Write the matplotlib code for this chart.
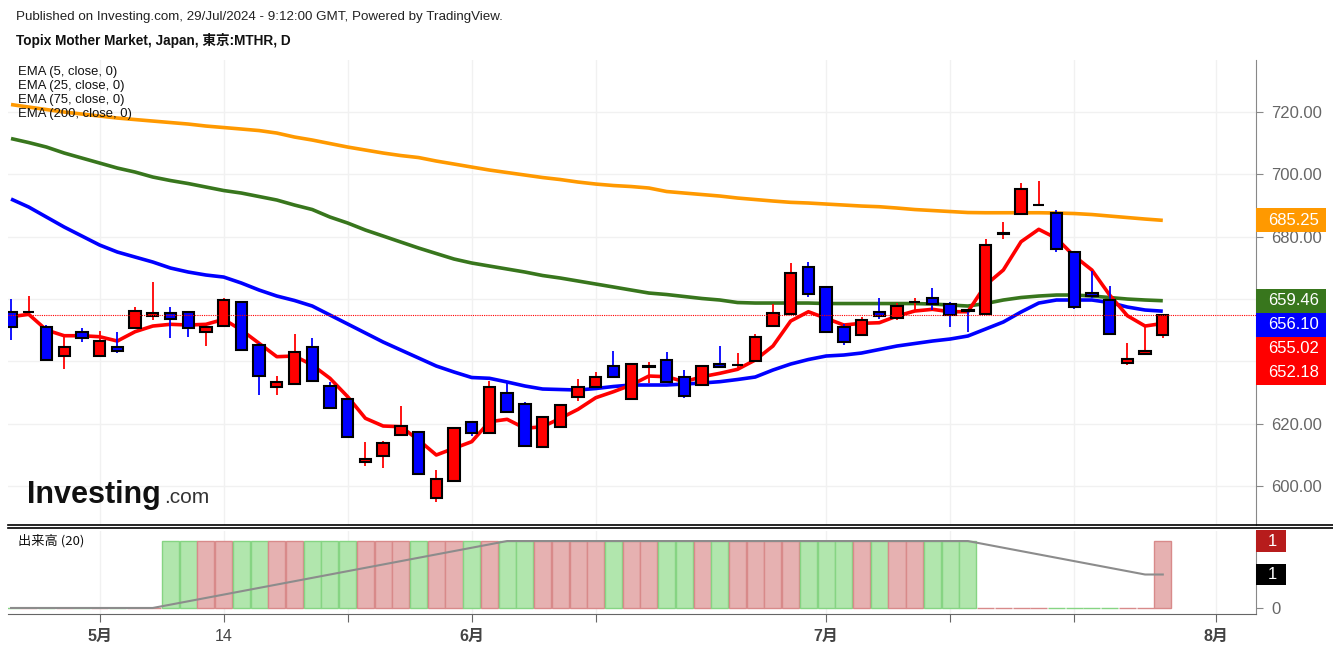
import numpy as np
import matplotlib
matplotlib.use('Agg')
import matplotlib.pyplot as plt
import matplotlib.transforms as mtransforms
from matplotlib.patches import Rectangle
from matplotlib.lines import Line2D

plt.rcParams['font.family'] = ['Liberation Sans', 'Noto Sans CJK JP']

# daily bars, 23 Apr - 29 Jul 2024 (trading days only, index = bar number)
opens = [655.74, 655.80, 650.93, 641.82, 649.52, 641.72, 644.70, 650.60, 654.55, 655.42,
         655.74, 649.52, 651.45, 659.14, 645.25, 631.68, 632.74, 644.70, 632.19, 627.92,
         607.70, 609.64, 616.28, 617.24, 596.16, 601.52, 620.64, 616.92, 629.75, 626.40,
         612.53, 618.84, 628.47, 631.87, 638.51, 627.92, 638.20, 640.44, 635.08, 632.32,
         639.06, 638.70, 640.02, 651.45, 655.20, 670.37, 663.95, 651.12, 648.55, 655.84,
         654.00, 659.10, 660.23, 658.30, 656.40, 655.20, 681.00, 687.18, 690.20, 687.50,
         674.99, 662.03, 659.69, 639.57, 642.36, 648.55]
highs = [659.91, 661.00, 651.67, 647.90, 650.60, 649.74, 649.30, 657.34, 665.56, 657.34,
         655.90, 650.93, 660.23, 659.30, 645.80, 635.30, 648.78, 647.40, 633.50, 628.10,
         614.03, 614.55, 625.68, 617.50, 605.14, 619.00, 620.80, 633.80, 632.96, 627.06,
         622.57, 626.10, 634.25, 636.68, 643.42, 639.30, 639.89, 642.90, 637.23, 638.70,
         644.93, 642.58, 648.68, 658.40, 671.46, 671.78, 664.10, 651.89, 654.13, 660.23,
         658.60, 660.40, 663.63, 659.14, 656.60, 679.16, 684.80, 697.32, 697.86, 688.56,
         675.10, 668.99, 664.18, 645.80, 651.12, 655.10]
lows = [646.85, 655.70, 640.40, 637.45, 646.10, 641.30, 642.60, 650.60, 653.27, 647.40,
        647.90, 644.93, 651.45, 643.50, 629.20, 629.20, 632.74, 633.70, 624.90, 615.60,
        606.50, 605.70, 616.00, 603.70, 594.98, 601.30, 616.15, 616.90, 623.50, 612.90,
        612.50, 618.70, 627.28, 631.80, 635.00, 627.80, 633.15, 633.20, 628.15, 632.20,
        638.10, 637.77, 639.90, 650.93, 655.00, 660.74, 649.40, 645.15, 648.50, 653.70,
        653.27, 656.50, 656.50, 650.93, 649.30, 655.10, 679.16, 687.10, 690.20, 675.18,
        656.70, 660.23, 648.60, 638.83, 642.30, 647.40]
closes = [650.93, 656.00, 640.44, 644.70, 647.59, 646.63, 643.32, 656.25, 655.42, 653.49,
          650.60, 650.93, 659.69, 643.64, 635.40, 633.28, 642.90, 633.70, 624.94, 615.83,
          608.67, 613.90, 619.26, 603.86, 602.35, 618.71, 616.92, 631.68, 623.66, 612.94,
          622.06, 625.90, 631.68, 635.08, 635.08, 639.06, 638.40, 633.28, 628.89, 638.51,
          638.19, 638.80, 647.72, 655.42, 668.44, 661.51, 649.52, 646.21, 653.27, 654.55,
          657.76, 659.20, 658.40, 654.78, 656.20, 677.33, 681.20, 695.20, 690.30, 675.95,
          657.34, 660.97, 648.68, 640.76, 643.32, 655.02]

ema5 = [654.33, 655.10, 650.06, 648.23, 648.23, 647.91, 646.53, 649.52, 651.34, 651.89,
        651.67, 651.89, 653.49, 650.06, 645.80, 641.50, 641.72, 638.83, 634.57, 628.66,
        621.73, 619.26, 619.04, 614.77, 609.96, 612.11, 614.23, 620.64, 621.41, 618.53,
        619.04, 621.73, 624.62, 628.34, 630.27, 632.42, 635.30, 635.08, 633.48, 635.08,
        636.17, 637.45, 640.44, 644.93, 652.95, 655.93, 653.81, 651.67, 652.21, 652.40,
        654.55, 656.16, 656.70, 655.93, 655.93, 664.50, 669.31, 678.39, 682.37, 679.48,
        673.80, 669.31, 661.29, 654.65, 651.34, 652.18]
ema25 = [692.09, 689.52, 686.31, 683.11, 680.22, 677.33, 675.09, 673.48, 671.88, 669.95,
         668.67, 667.71, 667.06, 665.14, 662.89, 660.97, 659.53, 657.76, 654.87, 651.99,
         649.10, 646.21, 643.64, 641.08, 638.51, 636.59, 634.82, 634.57, 633.38, 632.10,
         631.13, 630.97, 630.81, 631.29, 631.94, 632.42, 632.42, 632.42, 632.74, 633.06,
         633.48, 634.18, 634.98, 637.23, 639.15, 640.60, 641.72, 642.04, 642.68, 643.81,
         644.93, 645.73, 646.53, 647.17, 648.14, 650.38, 652.63, 655.84, 658.72, 659.69,
         659.69, 659.69, 658.88, 657.44, 656.48, 656.10]
ema75 = [711.50, 710.21, 708.77, 706.85, 705.24, 703.64, 702.03, 700.75, 699.15, 698.02,
         697.06, 695.94, 694.82, 694.01, 692.89, 691.77, 690.16, 688.72, 686.31, 684.39,
         682.14, 680.22, 678.29, 676.37, 674.60, 672.84, 671.56, 670.59, 669.63, 668.67,
         667.55, 666.74, 665.78, 664.82, 663.86, 662.89, 661.93, 661.45, 660.81, 660.17,
         659.69, 658.88, 658.72, 658.72, 658.72, 658.72, 658.56, 658.56, 658.56, 658.56,
         658.56, 658.56, 658.40, 658.08, 657.76, 658.56, 659.69, 660.49, 660.97, 661.29,
         661.29, 660.97, 660.49, 660.00, 659.69, 659.46]
ema200 = [722.41, 721.60, 720.80, 720.00, 719.36, 718.72, 718.08, 717.59, 717.11, 716.63,
          716.15, 715.51, 715.03, 714.55, 714.06, 713.26, 711.98, 711.02, 709.89, 708.77,
          707.81, 706.85, 706.04, 705.40, 704.28, 703.32, 702.35, 701.39, 700.59, 699.79,
          698.99, 698.34, 697.54, 696.90, 696.42, 696.10, 695.62, 694.50, 694.01, 693.53,
          693.05, 692.41, 691.93, 691.45, 691.03, 690.81, 690.48, 690.16, 689.84, 689.62,
          689.20, 688.72, 688.40, 688.08, 687.76, 687.69, 687.69, 687.69, 687.69, 687.60,
          687.44, 687.12, 686.63, 686.15, 685.67, 685.25]

volume = [0, 0, 0, 0, 0, 0, 0, 0, 0, 1,
          1, 1, 1, 1, 1, 1, 1, 1, 1, 1,
          1, 1, 1, 1, 1, 1, 1, 1, 1, 1,
          1, 1, 1, 1, 1, 1, 1, 1, 1, 1,
          1, 1, 1, 1, 1, 1, 1, 1, 1, 1,
          1, 1, 1, 1, 1, 0, 0, 0, 0, 0,
          0, 0, 0, 0, 0, 1]
volume_ma = [0, 0, 0, 0, 0, 0, 0, 0, 0, 0.05,
             0.10, 0.15, 0.20, 0.25, 0.30, 0.35, 0.40, 0.45, 0.50, 0.55,
             0.60, 0.65, 0.70, 0.75, 0.80, 0.85, 0.90, 0.95, 1.0, 1.0,
             1.0, 1.0, 1.0, 1.0, 1.0, 1.0, 1.0, 1.0, 1.0, 1.0,
             1.0, 1.0, 1.0, 1.0, 1.0, 1.0, 1.0, 1.0, 1.0, 1.0,
             1.0, 1.0, 1.0, 1.0, 1.0, 0.95, 0.90, 0.85, 0.80, 0.75,
             0.70, 0.65, 0.60, 0.55, 0.50, 0.50]

tick_pos = [5, 12, 19, 26, 33, 46, 53, 60, 68]
tick_labels = ['5月', '14', '', '6月', '', '7月', '', '', '8月']
price_ticks = [600, 620, 640, 660, 680, 700, 720]
price_labels = ['600.00', '620.00', '', '', '680.00', '700.00', '720.00']  # 640/660 sit under the tags
ema_names = ['EMA (5, close, 0)', 'EMA (25, close, 0)', 'EMA (75, close, 0)', 'EMA (200, close, 0)']

W, H = 1333, 648


def px_rect(l, t, r, b):
    return [l / W, 1 - b / H, (r - l) / W, (b - t) / H]


fig = plt.figure(figsize=(W / 100, H / 100), dpi=100)
ax = fig.add_axes(px_rect(8, 60, 1256, 525))
axv = fig.add_axes(px_rect(8, 531, 1256, 614), sharex=ax)

x = np.arange(len(closes))
o = np.array(opens)
c = np.array(closes)
up = c >= o
candle_cols = np.where(up, '#ff0000', '#0000ff')

# grid
for t in tick_pos:
    ax.axvline(t, color='#f1f1f1', lw=1, zorder=0)
    axv.axvline(t, color='#f1f1f1', lw=1, zorder=0)
for p in price_ticks:
    ax.axhline(p, color='#f1f1f1', lw=1, zorder=0)

# moving averages
ema_cols = ['#ff0000', '#0000ff', '#38761d', '#ff9900']
for series, col in zip([ema200, ema75, ema25, ema5], ema_cols[::-1]):
    ax.plot(x, series, color=col, lw=2.6, solid_capstyle='butt', zorder=2)

# candles
ax.vlines(x, lows, highs, colors=candle_cols, lw=1.3, zorder=3)
for xi, op, cl, col in zip(x, o, c, candle_cols):
    ax.add_patch(Rectangle((xi - 0.32, min(op, cl)), 0.64, abs(cl - op),
                           facecolor=col, edgecolor='black', lw=1.5, zorder=4))

ax.axhline(closes[-1], color='#ff0000', lw=0.8, ls=(0, (1, 1)), zorder=5)

ax.set_xlim(-0.17, 70.26)
ax.set_ylim(587.5, 736.7)
ax.yaxis.tick_right()
ax.set_yticks(price_ticks)
ax.set_yticklabels(price_labels)
ax.tick_params(axis='y', length=5, color='#888888', labelcolor='#666666',
               labelsize=12, pad=6)
ax.tick_params(axis='x', length=0, labelbottom=False)
for s in ['left', 'top', 'bottom']:
    ax.spines[s].set_visible(False)
ax.spines['right'].set_color('#888888')

# last-value tags on the price scale
tag_h = 7.7
tags = sorted(zip([ema200[-1], ema75[-1], ema25[-1], closes[-1], ema5[-1]],
                  ['#ff9900', '#38761d', '#0000ff', '#ff0000', '#ff0000']),
              key=lambda t: -t[0])
trans = mtransforms.blended_transform_factory(ax.transAxes, ax.transData)
prev = None
for val, col in tags:
    pos = val if prev is None else min(val, prev - tag_h)
    prev = pos
    ax.add_patch(Rectangle((1.0, pos - tag_h / 2), 70 / 1248, tag_h, transform=trans,
                           facecolor=col, edgecolor='none', clip_on=False, zorder=10))
    ax.text(1.0 + 12 / 1248, pos, '%.2f' % val, transform=trans, color='white',
            fontsize=12, va='center', ha='left', zorder=11, clip_on=False)

# legend text
for i, name in enumerate(ema_names):
    fig.text(18 / W, 1 - (72 + 14 * i) / H, name, fontsize=9.4, color='#111111',
             va='center', ha='left')

# volume pane
vol_cols = np.where(up, '#e6b1b1', '#b1e6ad')
vol_edge = np.where(up, '#d88a8a', '#86d483')
axv.bar(x, volume, width=0.96, color=vol_cols, edgecolor=vol_edge, lw=1, zorder=2)
axv.plot(x, volume_ma, color='#8c8c8c', lw=1.5, zorder=3)
axv.set_ylim(-0.09, 1.15)
axv.yaxis.tick_right()
axv.set_yticks([0])
axv.set_yticklabels(['0'])
axv.tick_params(axis='y', length=5, color='#888888', labelcolor='#666666',
                labelsize=12, pad=6)
axv.set_xticks(tick_pos)
axv.set_xticklabels(tick_labels)
axv.tick_params(axis='x', length=6, color='#666666', labelcolor='#444444',
                labelsize=11.5, pad=5)
for lab in axv.get_xticklabels():
    if lab.get_text().endswith('月'):
        lab.set_fontweight('bold')
for s in ['left', 'top']:
    axv.spines[s].set_visible(False)
axv.spines['right'].set_color('#888888')
axv.spines['bottom'].set_color('#666666')

vtrans = mtransforms.blended_transform_factory(axv.transAxes, axv.transData)
for val, lab, col in [(volume[-1], '1', '#b71c1c'), (volume_ma[-1], '1', '#000000')]:
    axv.add_patch(Rectangle((1.0, val - 0.16), 30 / 1248, 0.32, transform=vtrans,
                            facecolor=col, edgecolor='none', clip_on=False, zorder=10))
    axv.text(1.0 + 12 / 1248, val, lab, transform=vtrans, color='white', fontsize=12,
             va='center', ha='left', zorder=11, clip_on=False)
axv.text(10 / 1248, 0.88, '出来高 (20)', transform=axv.transAxes, fontsize=9.5,
         color='#111111', va='center', ha='left',
         family=['Noto Sans CJK JP', 'DejaVu Sans'])

# pane separator
for yy in (525, 528):
    fig.add_artist(Line2D([8 / W, 1.0], [1 - yy / H, 1 - yy / H], color='black', lw=1.2))

# header
fig.text(16 / W, 1 - 17 / H,
         'Published on Investing.com, 29/Jul/2024 - 9:12:00 GMT, Powered by TradingView.',
         fontsize=9.6, color='#222222', va='center', ha='left')
fig.text(16 / W, 1 - 40 / H, 'Topix Mother Market, Japan, 東京:MTHR, D',
         fontsize=9.8, fontweight='bold', color='#111111', va='center', ha='left')

# watermark
fig.text(27 / W, 1 - 503 / H, 'Investing', fontsize=22, fontweight='bold',
         color='#111111', va='baseline', ha='left')
fig.text(164 / W, 1 - 503 / H, '.com', fontsize=15, color='#333333',
         va='baseline', ha='left')

fig.savefig('out.png', dpi=100)
